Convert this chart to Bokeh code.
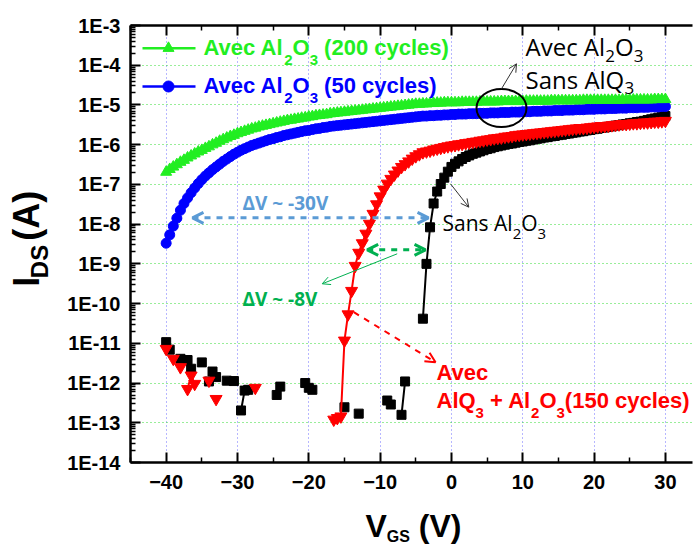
import math
import numpy as np
from bokeh.plotting import figure
from bokeh.layouts import row, column
from bokeh.models import (Range1d, FixedTicker, LinearAxis, CustomJSTickFormatter,
                          Label, Arrow, OpenHead)
from bokeh.embed import file_html
from bokeh.resources import INLINE

nan = float("nan")

# ---------------- data ----------------
VGS_STEP = 0.5
VGS = np.arange(-40.0, 30.0 + VGS_STEP / 2, VGS_STEP)   # gate sweep (V)

# log10(I_DS / A), one value per 0.5 V (nan = not shown)
LOG_IDS_AL2O3_200 = [
    -6.69, -6.62, -6.56, -6.50, -6.44, -6.39, -6.33, -6.28, -6.23, -6.18,
    -6.14, -6.09, -6.05, -6.00, -5.96, -5.91, -5.87, -5.83, -5.79, -5.76,
    -5.72, -5.69, -5.66, -5.63, -5.60, -5.58, -5.55, -5.53, -5.51, -5.49,
    -5.47, -5.45, -5.43, -5.41, -5.39, -5.38, -5.36, -5.35, -5.33, -5.32,
    -5.30, -5.29, -5.27, -5.26, -5.25, -5.24, -5.22, -5.21, -5.20, -5.19,
    -5.18, -5.17, -5.16, -5.15, -5.14, -5.13, -5.12, -5.11, -5.10, -5.09,
    -5.08, -5.07, -5.06, -5.05, -5.04, -5.03, -5.02, -5.01, -5.00, -4.99,
    -4.98, -4.98, -4.97, -4.97, -4.96, -4.96, -4.95, -4.95, -4.94, -4.94,
    -4.94, -4.94, -4.94, -4.93, -4.93, -4.93, -4.93, -4.93, -4.92, -4.92,
    -4.92, -4.92, -4.92, -4.92, -4.91, -4.91, -4.91, -4.91, -4.91, -4.91,
    -4.91, -4.90, -4.90, -4.90, -4.90, -4.90, -4.90, -4.90, -4.89, -4.89,
    -4.89, -4.89, -4.89, -4.89, -4.89, -4.89, -4.89, -4.88, -4.88, -4.88,
    -4.88, -4.88, -4.88, -4.88, -4.88, -4.88, -4.88, -4.88, -4.87, -4.87,
    -4.87, -4.87, -4.87, -4.87, -4.87, -4.87, -4.87, -4.86, -4.86, -4.86,
    -4.86,
]

LOG_IDS_AL2O3_50 = [
    -8.48, -8.27, -8.05, -7.85, -7.65, -7.48, -7.34, -7.21, -7.09, -6.98,
    -6.88, -6.79, -6.71, -6.63, -6.56, -6.49, -6.42, -6.36, -6.30, -6.24,
    -6.19, -6.14, -6.10, -6.06, -6.02, -5.99, -5.96, -5.93, -5.90, -5.87,
    -5.85, -5.82, -5.80, -5.77, -5.75, -5.73, -5.71, -5.69, -5.67, -5.65,
    -5.64, -5.62, -5.60, -5.59, -5.57, -5.56, -5.54, -5.53, -5.52, -5.51,
    -5.50, -5.49, -5.48, -5.47, -5.46, -5.45, -5.44, -5.43, -5.42, -5.41,
    -5.40, -5.39, -5.38, -5.37, -5.36, -5.35, -5.34, -5.33, -5.32, -5.31,
    -5.30, -5.29, -5.28, -5.28, -5.27, -5.27, -5.26, -5.26, -5.25, -5.25,
    -5.24, -5.24, -5.23, -5.23, -5.23, -5.22, -5.22, -5.22, -5.21, -5.21,
    -5.21, -5.20, -5.20, -5.20, -5.19, -5.19, -5.19, -5.18, -5.18, -5.18,
    -5.17, -5.17, -5.17, -5.16, -5.16, -5.16, -5.15, -5.15, -5.15, -5.14,
    -5.14, -5.14, -5.13, -5.13, -5.13, -5.12, -5.12, -5.12, -5.11, -5.11,
    -5.11, -5.10, -5.10, -5.10, -5.09, -5.09, -5.09, -5.08, -5.08, -5.08,
    -5.07, -5.07, -5.07, -5.06, -5.06, -5.06, -5.05, -5.05, -5.05, -5.04,
    -5.04,
]

LOG_IDS_ALQ3_AL2O3_150 = [
    -11.14, nan, -11.39, nan, -11.60, nan, -12.15, -11.81, -12.02, nan,
    nan, nan, -11.94, nan, -12.40, nan, nan, nan, nan, nan,
    nan, nan, nan, nan, nan, -12.12, nan, nan, nan, nan,
    nan, nan, nan, nan, nan, nan, nan, nan, nan, nan,
    nan, nan, nan, nan, nan, nan, nan, -12.92, -12.88, -12.84,
    -10.93, -10.27, -9.68, -9.05, -8.72, -8.48, -8.24, -7.99, -7.74, -7.50,
    -7.30, -7.13, -6.98, -6.86, -6.75, -6.65, -6.56, -6.49, -6.42, -6.35,
    -6.29, -6.24, -6.19, -6.17, -6.15, -6.12, -6.10, -6.08, -6.06, -6.04,
    -6.02, -6.01, -5.99, -5.98, -5.96, -5.95, -5.93, -5.92, -5.90, -5.89,
    -5.87, -5.86, -5.84, -5.83, -5.82, -5.80, -5.79, -5.78, -5.76, -5.75,
    -5.74, -5.73, -5.72, -5.71, -5.70, -5.69, -5.68, -5.67, -5.66, -5.65,
    -5.64, -5.63, -5.62, -5.61, -5.60, -5.59, -5.58, -5.58, -5.57, -5.56,
    -5.55, -5.54, -5.53, -5.53, -5.52, -5.51, -5.50, -5.49, -5.48, -5.48,
    -5.47, -5.46, -5.46, -5.45, -5.44, -5.44, -5.43, -5.42, -5.42, -5.41,
    -5.40,
]

LOG_IDS_SANS_AL2O3 = [
    -10.97, -11.16, nan, nan, -11.39, nan, -11.42, -11.64, nan, nan,
    -11.48, nan, -11.96, -11.71, -11.85, nan, nan, -11.94, nan, -11.95,
    nan, -12.69, -12.19, -12.17, nan, nan, nan, nan, nan, nan,
    nan, -12.30, -12.09, nan, nan, nan, nan, nan, nan, -12.00,
    -12.12, -12.17, nan, nan, nan, nan, nan, nan, nan, nan,
    -12.61, nan, nan, nan, -12.77, nan, nan, nan, nan, nan,
    nan, nan, -12.44, -12.54, nan, nan, -12.80, -11.96, nan, nan,
    nan, nan, -10.38, -9.00, -8.08, -7.48, -7.18, -6.99, -6.83, -6.68,
    -6.56, -6.48, -6.42, -6.36, -6.31, -6.27, -6.23, -6.20, -6.17, -6.14,
    -6.11, -6.09, -6.06, -6.04, -6.02, -6.00, -5.98, -5.97, -5.95, -5.93,
    -5.92, -5.90, -5.89, -5.87, -5.85, -5.84, -5.82, -5.81, -5.79, -5.78,
    -5.76, -5.75, -5.73, -5.72, -5.70, -5.69, -5.67, -5.66, -5.64, -5.63,
    -5.61, -5.60, -5.58, -5.57, -5.55, -5.54, -5.52, -5.51, -5.49, -5.48,
    -5.46, -5.45, -5.43, -5.42, -5.40, -5.38, -5.36, -5.34, -5.32, -5.30,
    -5.28,
]

X_TICKS = [-40, -30, -20, -10, 0, 10, 20, 30]
X_MINOR = [-45, -35, -25, -15, -5, 5, 15, 25]
Y_TICKS = [1e-14, 1e-13, 1e-12, 1e-11, 1e-10, 1e-9, 1e-8, 1e-7, 1e-6, 1e-5, 1e-4, 1e-3]

for arr in (LOG_IDS_AL2O3_200, LOG_IDS_AL2O3_50, LOG_IDS_ALQ3_AL2O3_150, LOG_IDS_SANS_AL2O3):
    assert len(arr) == len(VGS), len(arr)

IDS_200 = 10.0 ** np.array(LOG_IDS_AL2O3_200)
IDS_50 = 10.0 ** np.array(LOG_IDS_AL2O3_50)
IDS_ALQ3 = 10.0 ** np.array(LOG_IDS_ALQ3_AL2O3_150)
IDS_SANS = 10.0 ** np.array(LOG_IDS_SANS_AL2O3)

# ---------------- layout (page pixels) ----------------
PW, PH = 694, 546
YW = 55                      # strip for the rotated y title
MH = 505                     # height of the main figure
MW = PW - YW
XH = PH - MH                 # strip for the x title
FL, FR, FT, FB = 130, 692, 25, 462          # frame edges in page pixels
X0, X1 = -45.0, 33.8
LY0, LY1 = -14.0, -3.0
K_BASE = 0.37                # measured offset of the rendered baseline (em)

def px2x(px):
    return X0 + (px - FL) * (X1 - X0) / (FR - FL)

def px2y(py):
    return 10.0 ** (LY1 - (py - FT) * (LY1 - LY0) / (FB - FT))

GREEN = "#22EE22"
BLUE = "#0000FF"
RED = "#FF0000"
BLACK = "#000000"
LBLUE = "#5B9BD5"
DGREEN = "#00B050"

p = figure(width=MW, height=MH, x_range=Range1d(X0, X1), y_range=Range1d(1e-14, 1e-3),
           y_axis_type="log", output_backend="svg", toolbar_location=None,
           min_border_left=FL - YW, min_border_right=PW - FR,
           min_border_top=FT, min_border_bottom=MH - FB,
           outline_line_color=None, background_fill_color="white",
           border_fill_color="white")

xa = p.below[0]
ya = p.left[0]
xt = FixedTicker(ticks=X_TICKS, minor_ticks=X_MINOR)
y_minor = [m * t for t in Y_TICKS[:-1] for m in range(2, 10)]
yt = FixedTicker(ticks=Y_TICKS, minor_ticks=y_minor)
xa.ticker = xt
ya.ticker = yt
p.xgrid[0].ticker = xt
p.ygrid[0].ticker = yt
ya.formatter = CustomJSTickFormatter(code="return '1E' + Math.round(Math.log10(tick));")

top = LinearAxis(ticker=xt, formatter=CustomJSTickFormatter(code="return '';"),
                 major_label_text_font_size="0px", major_label_standoff=0)
p.add_layout(top, "above")

for ax in (xa, ya, top):
    ax.axis_line_width = 2.5
    ax.axis_line_color = BLACK
    ax.major_tick_line_width = 2
    ax.minor_tick_line_width = 1.5
    ax.major_tick_in = 10
    ax.major_tick_out = 0
    ax.minor_tick_in = 5
    ax.minor_tick_out = 0
    ax.major_tick_line_color = BLACK
    ax.minor_tick_line_color = BLACK
for ax in (xa, ya):
    ax.major_label_text_font = "Liberation Sans"
    ax.major_label_text_font_style = "bold"
    ax.major_label_text_font_size = "20px"
    ax.major_label_text_color = BLACK
ya.major_label_standoff = 10
xa.major_label_standoff = 12

p.xgrid.grid_line_color = "#6F6FFF"
p.xgrid.grid_line_dash = "1 3"
p.xgrid.grid_line_width = 1
p.ygrid.grid_line_color = "#33DD33"
p.ygrid.grid_line_dash = "1 3"
p.ygrid.grid_line_width = 1

# ---------------- series ----------------
p.line(VGS, IDS_SANS, line_color=BLACK, line_width=2)
p.scatter(VGS, IDS_SANS, marker="square", size=9, color=BLACK)
p.line(VGS, IDS_ALQ3, line_color=RED, line_width=2)
p.scatter(VGS, IDS_ALQ3, marker="inverted_triangle", size=12, color=RED)
p.line(VGS, IDS_50, line_color=BLUE, line_width=2)
p.scatter(VGS, IDS_50, marker="circle", size=10, color=BLUE)
p.line(VGS, IDS_200, line_color=GREEN, line_width=2)
p.scatter(VGS, IDS_200, marker="triangle", size=11, color=GREEN)

# ---------------- text helpers ----------------
ARIAL_B = {' ': .278, '(': .333, ')': .333, '+': .584, '-': .333, 'A': .722, 'O': .778,
           'Q': .778, 'S': .667, 'D': .722, 'G': .778, 'I': .278, 'V': .667, 'l': .278,
           'v': .556, 'e': .556, 'c': .556, 'y': .556, 's': .556, 'n': .611, 'a': .556}
OPEN_R = {' ': .26, 'A': .633, 'S': .547, 'Q': .781, 'O': .781, 'a': .556, 'n': .614,
          's': .477, 'l': .253, 'v': .507, 'e': .561, 'c': .476}

def tw(s, size, table, digit):
    return sum(table.get(ch, digit if ch.isdigit() else .55) for ch in s) * size

def seg_text(fig, mapx, mapy, x_px, base_px, segs, font, style, color, size, sub_size,
             drop, table, digit, angle=0.0):
    """Place text segments (subscripts shifted) along the writing direction.
    (x_px, base_px): start of the text and its baseline, in page pixels."""
    pos = x_px if angle == 0 else base_px
    for s, sub in segs:
        fs = sub_size if sub else size
        lead = len(s) - len(s.lstrip(" "))
        adv = tw(" " * lead, fs, table, digit)
        pos_s = pos + (adv if angle == 0 else -adv)
        txt = s.lstrip(" ")
        down = (drop if sub else 0) - K_BASE * fs
        if angle == 0:
            lx, ly = pos_s, base_px + down
        else:
            lx, ly = x_px + down, pos_s
        fig.add_layout(Label(x=mapx(lx), y=mapy(ly), text=txt, text_font=font,
                             text_font_style=style, text_font_size=f"{fs}px",
                             text_color=color, text_align="left",
                             text_baseline="alphabetic", angle=angle))
        w = tw(s, fs, table, digit)
        pos += w if angle == 0 else -w

def arrow(x0, y0, x1, y1, color, width, dash="solid", size=10, both=False):
    head = dict(size=size, line_color=color, line_width=width)
    a = Arrow(end=OpenHead(**head), x_start=px2x(x0), y_start=px2y(y0),
              x_end=px2x(x1), y_end=px2y(y1), line_color=color, line_width=width,
              line_dash=dash)
    if both:
        a.start = OpenHead(**head)
    p.add_layout(a)

def main_text(*args, **kw):
    seg_text(p, px2x, px2y, *args, **kw)

# ---------------- legend ----------------
for (ly, col, mk, lab) in ((47.7, GREEN, "triangle", " (200 cycles)"),
                           (86.0, BLUE, "circle", " (50 cycles)")):
    p.line([px2x(142), px2x(195)], [px2y(ly), px2y(ly)], line_color=col, line_width=2.5)
    p.scatter([px2x(168)], [px2y(ly)], marker=mk, size=11, color=col)
    main_text(203, ly + 7.5, [("Avec Al", 0), ("2", 1), ("O", 0), ("3", 1), (lab, 0)],
              "Liberation Sans", "bold", col, 22, 15, 10, ARIAL_B, .556)

# ---------------- annotations ----------------
main_text(242, 210, [("ΔV ~ -30V", 0)], "Open Sans", "bold", LBLUE, 19, 19, 0, OPEN_R, .572)
main_text(242, 306, [("ΔV ~ -8V", 0)], "Open Sans", "bold", DGREEN, 19, 19, 0, OPEN_R, .572)
arrow(192, 217.3, 428, 217.3, LBLUE, 3, dash="dashed", size=11, both=True)
arrow(366.7, 249.3, 425, 249.3, DGREEN, 3, dash="dashed", size=11, both=True)
arrow(396.7, 253.3, 321.7, 283.3, DGREEN, 1, size=8)

main_text(442, 230, [("Sans Al", 0), ("2", 1), ("O", 0), ("3", 1)],
          "Open Sans", "normal", BLACK, 21, 15, 9, OPEN_R, .572)
arrow(450, 183.3, 468.3, 206.7, "#333333", 1, size=8)

p.ellipse(x=[px2x(501)], y=[px2y(107.5)], width=50, height=38, width_units="screen",
          height_units="screen", fill_color=None, line_color=BLACK, line_width=2)
arrow(501, 88.3, 516, 63.3, "#333333", 1, size=8)
main_text(525, 55, [("Avec Al", 0), ("2", 1), ("O", 0), ("3", 1)],
          "Open Sans", "normal", BLACK, 24, 17, 7, OPEN_R, .572)
main_text(525, 88, [("Sans AlQ", 0), ("3", 1)],
          "Open Sans", "normal", BLACK, 24, 17, 6, OPEN_R, .572)

arrow(353.3, 311.7, 435, 361.7, RED, 2, dash="dashed", size=10)
main_text(436, 380, [("Avec", 0)], "Liberation Sans", "bold", RED, 22, 15, 10, ARIAL_B, .556)
main_text(436, 408, [("AlQ", 0), ("3", 1), (" + Al", 0), ("2", 1), ("O", 0), ("3", 1),
                     ("(150 cycles)", 0)],
          "Liberation Sans", "bold", RED, 22, 15, 10, ARIAL_B, .556)

# ---------------- title strips ----------------
def strip(w, h):
    f = figure(width=w, height=h, x_range=Range1d(0, w), y_range=Range1d(0, h),
               output_backend="svg", toolbar_location=None, min_border=0,
               x_axis_location=None, y_axis_location=None, outline_line_color=None,
               background_fill_color="white", border_fill_color="white")
    f.xgrid.visible = False
    f.ygrid.visible = False
    return f

ylab = strip(YW, MH)
seg_text(ylab, lambda v: v, lambda v: MH - v, 39, 302,
         [("I", 0), ("DS", 1), (" (A)", 0)],
         "Liberation Sans", "bold", BLACK, 36, 24, 9, ARIAL_B, .556, angle=math.pi / 2)

xlab = strip(PW, XH)
seg_text(xlab, lambda v: v, lambda v: XH - (v - MH), 365, 537,
         [("V", 0), ("GS", 1), (" (V)", 0)],
         "Liberation Sans", "bold", BLACK, 32, 16, 5, ARIAL_B, .556)

layout = column(row(ylab, p), xlab)
open("out.html", "w").write(file_html(layout, INLINE))
